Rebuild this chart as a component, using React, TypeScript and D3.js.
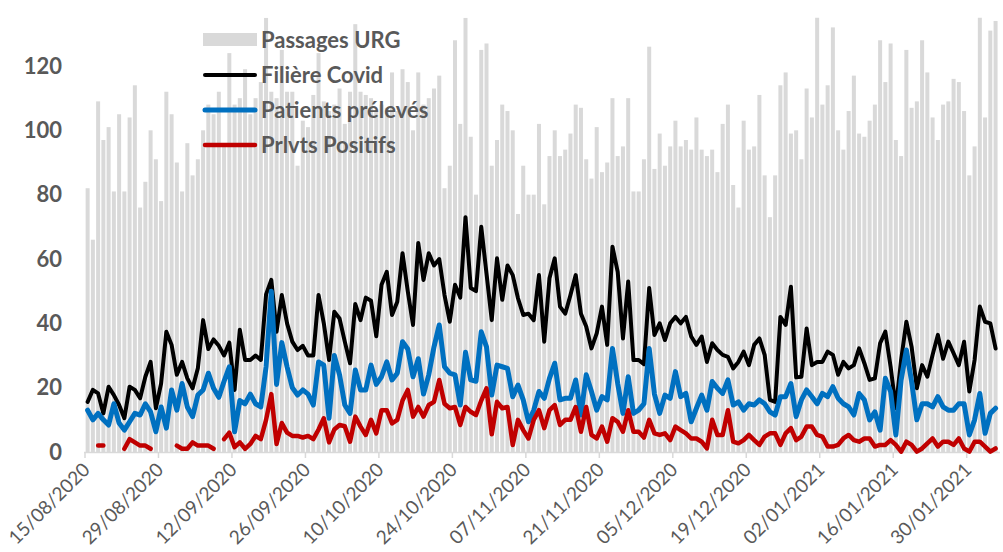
import React from "react";
import * as d3 from "d3";

const tickLabels = [
  "15/08/2020", "29/08/2020", "12/09/2020", "26/09/2020", "10/10/2020", "24/10/2020",
  "07/11/2020", "21/11/2020", "05/12/2020", "19/12/2020", "02/01/2021", "16/01/2021", "30/01/2021",
];
const yTicks = [0, 20, 40, 60, 80, 100, 120];

const passagesURG = [
  82, 66, 109, 97, 101, 81, 105, 81, 104, 114, 76, 84, 100, 91, 78, 112, 105, 90, 81, 96,
  86, 91, 100, 108, 105, 112, 95, 124, 108, 110, 119, 105, 110, 115, 135, 112, 110, 125, 112, 112,
  89, 103, 101, 111, 124, 109, 106, 108, 113, 102, 112, 133, 112, 111, 110, 106, 108, 107, 118, 106,
  119, 115, 100, 118, 108, 110, 113, 117, 82, 89, 128, 102, 135, 98, 80, 125, 127, 89, 97, 108,
  106, 100, 74, 89, 80, 80, 102, 77, 92, 100, 92, 94, 99, 108, 107, 91, 85, 101, 87, 90,
  110, 92, 95, 110, 81, 81, 91, 126, 88, 99, 89, 95, 103, 95, 97, 94, 104, 94, 92, 94,
  87, 102, 108, 83, 76, 103, 94, 95, 111, 86, 73, 86, 114, 118, 99, 100, 91, 113, 104, 136,
  108, 114, 132, 100, 94, 106, 117, 99, 98, 103, 108, 128, 115, 127, 97, 92, 125, 107, 109, 128,
  118, 104, 97, 108, 109, 116, 115, 106, 86, 95, 136, 104, 131, 134,
];

const filiereCovid = [
  15.6, 19.3, 18.2, 12, 20.3, 17.7, 14.6, 10.5, 20.3, 19.3, 16.7, 23.4, 28, 13.6, 21.3, 37.4, 33.3, 24, 28, 22.9,
  19.8, 26, 41, 32, 35, 33, 30, 34, 19.3, 38, 28.6, 28.6, 30, 28.6, 49, 53.5, 37.4, 48.8, 40, 34.3,
  31.7, 33, 30, 30, 48.8, 40, 28.6, 43.6, 41.5, 34.3, 27.6, 46, 41, 48, 47, 36, 52, 56, 42.6, 46.7,
  61.8, 50, 39.5, 65, 53.5, 61.8, 58, 60, 48.8, 40.5, 52, 48, 73, 51, 50, 70, 55.5, 41, 60.2, 47.3,
  58, 55, 47.8, 42.6, 43, 41, 55, 34.3, 54, 60.2, 45.2, 43, 48.8, 55, 43, 39, 32.2, 36.9, 45.2, 33.3,
  63.8, 56, 35.3, 53, 28.6, 28.6, 27.3, 51, 36.4, 40, 34.8, 40, 42, 40, 42, 35.9, 33.3, 35.9, 28, 33.8,
  31.7, 30.2, 29.6, 26, 28, 31.2, 27, 33.3, 35.3, 30.2, 16.2, 15.6, 42, 39.5, 51.4, 23.2, 23.4, 38.4, 27, 28,
  28, 31.2, 30.2, 24, 28, 26, 27, 32.2, 27.6, 22.4, 22.9, 33.8, 37.4, 26.5, 13.6, 28.6, 40.5, 32.7, 19.8, 27,
  23.4, 30.2, 36.4, 29, 34.3, 30.7, 27, 34.3, 18.8, 28.6, 45.2, 40.5, 40, 32.2,
];

const patientsPreleves = [
  13, 10, 12, 10, 8.4, 15, 9, 6.8, 9.4, 12, 11.5, 15, 12.5, 6.3, 14, 7.4, 19.3, 13, 21.3, 14,
  11, 17.7, 19.3, 24.5, 19.8, 17, 22, 26.5, 6.3, 16, 15, 18, 15, 14, 26.5, 50, 21, 34, 26.5, 20,
  17.7, 19.3, 18, 14.6, 28, 27, 10.5, 30, 24, 14.6, 12, 25.5, 19.3, 19.3, 27, 21, 23.4, 28, 22.4, 24.5,
  34.3, 32, 23.4, 29, 18, 24, 32.7, 39.5, 26.5, 24.5, 24, 14.6, 31, 22.4, 22, 37.4, 32.7, 17.7, 27, 26.5,
  26, 17.2, 20.8, 16.2, 9.4, 13, 18.8, 16.7, 22.9, 27.6, 16.2, 16.7, 16.7, 22.4, 11.5, 24, 18.8, 13, 17.2, 16.2,
  32.2, 21.3, 12, 23.4, 12, 13, 15, 32.2, 18, 12, 17.7, 16.7, 25, 17.2, 18.2, 9.4, 13.6, 17.7, 13, 21.9,
  19.8, 18.2, 22.4, 14.6, 15.6, 13, 15, 14.6, 16.2, 15, 12.5, 11.5, 17.2, 17.2, 21.3, 11, 16.2, 19.3, 17.2, 15,
  18.2, 17.2, 20.3, 16.7, 15, 14, 11.5, 18.2, 16.2, 10, 12.5, 6.8, 22.9, 18.8, 5.3, 22.4, 31.7, 21.9, 10, 15,
  15, 14, 17.2, 14, 13, 13, 15, 15, 5.3, 10, 18.2, 5.8, 12, 13.6,
];

const prlvtsPositifs: (number | null)[] = [
  null, null, 2, 2, null, null, null, 1, 4, 3, 2, 2, 1, null, null, null, null, 2, 1, 1,
  3, 2, 2, 2, 1, null, 4, 6, 1.5, 3, 1, 2.5, 5, 4, 10, 18, 2.5, 9, 6, 5,
  5, 4.5, 5, 4, 7, 10.5, 3, 7, 8.4, 8, 3.2, 11, 7.9, 5.3, 10, 5.8, 13, 13, 8.9, 10,
  16, 19.3, 11, 14, 11, 14.6, 15.6, 22.4, 15, 13.6, 14, 8.4, 14, 12.5, 11.5, 16, 19.8, 5.5, 15.6, 13.6,
  14, 2.2, 10, 6.8, 4.2, 10, 13, 7.4, 13, 14.6, 8.4, 10, 10, 14, 6.3, 14, 5.3, 4.2, 7.9, 3.2,
  10.5, 9.4, 6.3, 13, 6.3, 6.3, 4.5, 10, 5.8, 5.3, 5.8, 3.7, 7.9, 6.8, 5.8, 4.2, 4.2, 3.2, 1.1, 10,
  5.3, 5.3, 13, 3.2, 2.7, 3.7, 5.3, 3.7, 2.2, 4.8, 5.8, 5.8, 2.2, 5.8, 7.4, 3.7, 4.8, 7.9, 7.9, 5.3,
  4.8, 1.7, 1.7, 2.2, 4.2, 5.3, 3.7, 3.2, 4.2, 4.2, 1.7, 2.2, 2.2, 3.7, 2.2, 0.1, 3.2, 2.2, 0.1, 1.1,
  2.7, 4.2, 1.7, 3.2, 3.2, 2.2, 4.2, 1.1, 0.1, 3.2, 3.2, 1.7, 0.1, 1.1,
];

const seriesNames = ["Passages URG", "Filière Covid", "Patients prélevés", "Prlvts Positifs"];

const GRAY_TEXT = "#595959";
const BAR = "#d9d9d9";
const FONT = "Lato, 'Open Sans', sans-serif";

export default function App() {
  const W = 1003;
  const H = 552;
  const n = passagesURG.length;
  const x0 = 85;
  const x1 = 998.2;
  const x = d3.scaleLinear().domain([0, n]).range([x0, x1]);
  const y = d3.scaleLinear().domain([0, 135]).range([452, 452 - 135 * 3.2167]);
  const barW = 4;
  const cx = (i: number) => x(i + 0.5);

  const mkLine = d3
    .line<number | null>()
    .defined((d) => d != null)
    .x((_, i) => cx(i))
    .y((d) => y(d as number));

  const lines = [
    { data: filiereCovid, color: "#000000", w: 4 },
    { data: patientsPreleves, color: "#0070c0", w: 5 },
    { data: prlvtsPositifs, color: "#c00000", w: 4.5 },
  ];

  const legendRows = [40, 75, 110, 145];

  return (
    <svg
      width={W}
      height={H}
      style={{ position: "absolute", left: 0, top: 0, display: "block", background: "#fff" }}
      fontFamily={FONT}
    >
      <defs>
        <clipPath id="plotclip">
          <rect x={0} y={y(135)} width={W} height={452 - y(135) + 1} />
        </clipPath>
      </defs>
      {/* bars */}
      <g clipPath="url(#plotclip)">
        {passagesURG.map((v, i) => (
          <rect key={i} x={cx(i) - barW / 2} y={y(v)} width={barW} height={y(0) - y(v)} fill={BAR} />
        ))}
      </g>
      {/* axis */}
      <line x1={x0 - 1} x2={1000} y1={452.5} y2={452.5} stroke={BAR} strokeWidth={1.5} />
      {tickLabels.map((t, k) => {
        const tx = x(k * 14);
        return (
          <g key={t}>
            <line x1={tx} x2={tx} y1={452} y2={458} stroke={BAR} strokeWidth={1.5} />
            <text
              transform={`translate(${tx + 6},${471}) rotate(-45)`}
              textAnchor="end"
              fontSize={19}
              fill={GRAY_TEXT}
            >
              {t}
            </text>
          </g>
        );
      })}
      {/* y labels */}
      {yTicks.map((v) => (
        <text
          key={v}
          x={62}
          y={y(v)}
          dy="0.35em"
          textAnchor="end"
          fontSize={22}
          fontWeight={700}
          fill={GRAY_TEXT}
        >
          {v}
        </text>
      ))}
      {/* lines */}
      {lines.map((l, k) => (
        <path
          key={k}
          d={mkLine(l.data as (number | null)[]) || ""}
          fill="none"
          stroke={l.color}
          strokeWidth={l.w}
          strokeLinejoin="round"
          strokeLinecap="round"
        />
      ))}
      {/* legend */}
      <rect x={203} y={33} width={54} height={13} fill={BAR} />
      {lines.map((l, k) => (
        <line
          key={k}
          x1={205}
          x2={255}
          y1={legendRows[k + 1]}
          y2={legendRows[k + 1]}
          stroke={l.color}
          strokeWidth={l.w}
          strokeLinecap="round"
        />
      ))}
      {seriesNames.map((s, k) => (
        <text
          key={s}
          x={261}
          y={legendRows[k]}
          dy="0.35em"
          fontSize={22}
          fontWeight={700}
          fill={GRAY_TEXT}
        >
          {s}
        </text>
      ))}
    </svg>
  );
}
